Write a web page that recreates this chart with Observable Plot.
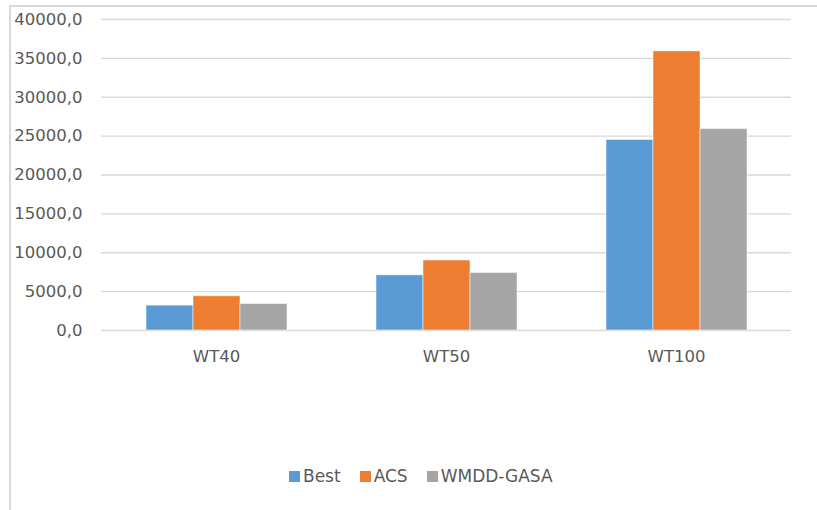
<!DOCTYPE html>
<html>
<head>
<meta charset="utf-8">
<script src="https://cdn.jsdelivr.net/npm/d3@7"></script>
<script src="https://cdn.jsdelivr.net/npm/@observablehq/plot@0.6"></script>
<style>
  html, body { margin: 0; padding: 0; background: #fff; }
  #wrap { position: relative; width: 817px; height: 510px; overflow: hidden; background: #fff; }
  #frame { position: absolute; left: 9px; top: 5px; width: 900px; height: 600px;
           border-left: 2px solid #d9d9d9; border-top: 2px solid #d9d9d9; box-sizing: border-box; }
  #chart { position: absolute; left: 0; top: 0; }
  #legend { position: absolute; left: 289px; top: 466px; display: flex; align-items: center;
            font-family: "DejaVu Sans", sans-serif; font-size: 17px; color: #595959; }
  .item { display: flex; align-items: center; margin-right: 19px; }
  .sw { width: 11px; height: 11px; margin-right: 3px; }
</style>
</head>
<body>
<div id="wrap">
  <div id="frame"></div>
  <div id="chart"></div>
  <div id="legend"></div>
</div>
<script>
const categories = ["WT40", "WT50", "WT100"];
const series = ["Best", "ACS", "WMDD-GASA"];
const best = [3200, 7100, 24500];
const acs = [4400, 9000, 35900];
const wmdd = [3400, 7400, 25900];
const yTicks = [0, 5000, 10000, 15000, 20000, 25000, 30000, 35000, 40000];
const colors = ["#5B9BD5", "#ED7D31", "#A5A5A5"];

const seriesValues = [best, acs, wmdd];
const data = categories.flatMap((c, i) =>
  series.map((s, j) => ({cat: c, series: s, value: seriesValues[j][i]}))
);

const chart = Plot.plot({
  width: 817,
  height: 400,
  marginTop: 19,
  marginBottom: 70,
  marginLeft: 100,
  marginRight: 25,
  style: {fontFamily: "DejaVu Sans, sans-serif", fontSize: "16.5px", color: "#595959", background: "transparent"},
  fx: {domain: categories, padding: 0, label: null, axis: null},
  x: {domain: series, paddingInner: 0, paddingOuter: 0.9, axis: null},
  y: {domain: [0, 40000], axis: null},
  color: {domain: series, range: colors},
  marks: [
    Plot.ruleY(yTicks, {stroke: "#d9d9d9", strokeWidth: 1.3}),
    Plot.barY(data, {fx: "cat", x: "series", y: "value", fill: "series",
                     stroke: "white", strokeOpacity: 0.5, strokeWidth: 1}),
    Plot.axisY(yTicks, {tickSize: 0, tickPadding: 19, label: null,
                        tickFormat: d => d.toFixed(1).replace(".", ",")}),
    Plot.axisFx({anchor: "bottom", tickSize: 0, tickPadding: 20, label: null})
  ]
});
document.getElementById("chart").appendChild(chart);

const legend = document.getElementById("legend");
series.forEach((s, i) => {
  const item = document.createElement("div");
  item.className = "item";
  const sw = document.createElement("div");
  sw.className = "sw";
  sw.style.background = colors[i];
  const t = document.createElement("span");
  t.textContent = s;
  item.appendChild(sw);
  item.appendChild(t);
  legend.appendChild(item);
});
</script>
</body>
</html>
